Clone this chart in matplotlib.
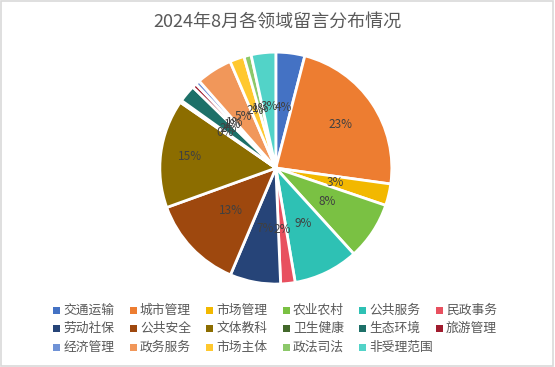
import math
import matplotlib.pyplot as plt
from matplotlib.patches import Rectangle

plt.rcParams['font.family'] = ['Noto Sans CJK SC', 'DejaVu Sans']

# share of messages by field (percent)
categories = ["交通运输", "城市管理", "市场管理", "农业农村", "公共服务", "民政事务",
              "劳动社保", "公共安全", "文体教科", "卫生健康", "生态环境", "旅游管理",
              "经济管理", "政务服务", "市场主体", "政法司法", "非受理范围"]
shares = [4, 23, 3, 8, 9, 2, 7, 13, 15, 0.3, 2.4, 0.6, 0.6, 5, 2, 1, 3.4]
colors = ["#4472C4", "#ED7D31", "#F2B800", "#7AC143", "#2EC1B4", "#E8505F",
          "#264478", "#9E480E", "#8C6D00", "#43682B", "#1D7068", "#A01C2E",
          "#6F92D6", "#F1975A", "#FFC82E", "#8CC86A", "#52D3C8"]


def main():
    W, H = 555, 367
    fig = plt.figure(figsize=(W / 100, H / 100), dpi=100)
    ax = fig.add_axes([0.288, 0.226, 0.418, 0.632])

    ax.pie(shares, colors=colors, startangle=90, counterclock=False,
           wedgeprops=dict(edgecolor="white", linewidth=2.0))

    # percent labels, placed inside the wedges
    total = sum(shares)
    angle = 90.0
    for s in shares:
        mid = angle - s / total * 360 / 2
        angle -= s / total * 360
        pct = round(s / total * 100)
        r = 0.53
        if pct >= 20:
            r = 0.67
        elif pct >= 14:
            r = 0.75
        x = r * math.cos(math.radians(mid))
        y = r * math.sin(math.radians(mid))
        ax.text(x, y, f"{pct}%", ha="center", va="center", fontsize=8.5, color="#404040")

    ax.set_xlim(-1.0, 1.0)
    ax.set_ylim(-1.0, 1.0)
    ax.set_aspect("auto")

    fig.text(0.499, 0.94, "2024年8月各领域留言分布情况", ha="center", va="center",
             fontsize=13, color="#595959")

    # legend: 6 equal columns, filled row by row
    col_w, row_h = 76.5, 18.5
    x0, y0 = 53, 310
    sq = 7
    for i, (name, c) in enumerate(zip(categories, colors)):
        row, col = divmod(i, 6)
        px = x0 + col * col_w
        py = y0 + row * row_h
        fig.add_artist(Rectangle((px / W, 1 - (py + sq / 2) / H), sq / W, sq / H,
                                 transform=fig.transFigure, facecolor=c, edgecolor="none"))
        fig.text((px + sq + 3.5) / W, 1 - py / H, name, ha="left", va="center",
                 fontsize=9.2, color="#595959")

    # light grey chart border
    fig.add_artist(Rectangle((0.002, 0.003), 0.995, 0.993, transform=fig.transFigure,
                             fill=False, edgecolor="#D9D9D9", linewidth=1.2))

    fig.savefig("out.png", dpi=100)


if __name__ == "__main__":
    main()
